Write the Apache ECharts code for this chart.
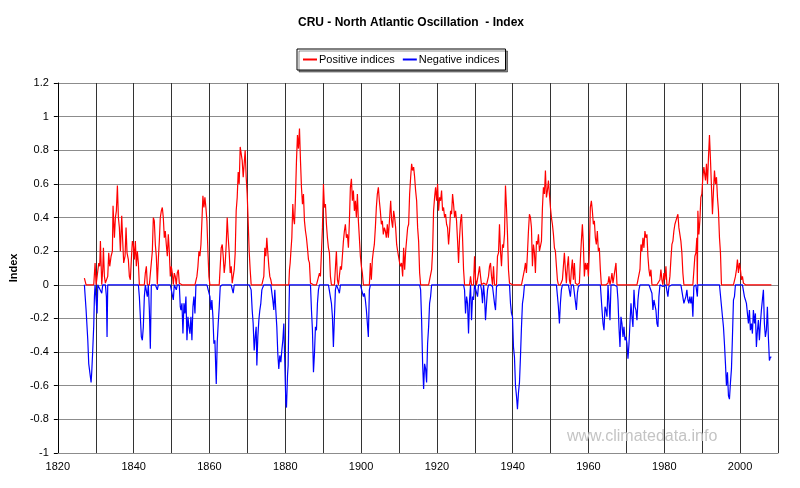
<!DOCTYPE html>
<html>
<head>
<meta charset="utf-8">
<script src="https://cdn.jsdelivr.net/npm/echarts@6/dist/echarts.min.js"></script>
<style>html,body{margin:0;padding:0;background:#fff;}#c{width:800px;height:488px;}</style>
</head>
<body>
<div id="c"></div>
<script>
// NAO index readings [year, value]
const nao1827_1852 = [[1827.0,0.04],[1827.45,-0.15],[1827.9,-0.33],[1828.15,-0.47],[1828.5,-0.48],[1828.77,-0.58],[1828.94,-0.52],[1829.2,-0.39],[1829.47,-0.24],[1829.65,-0.07],[1829.82,0.13],[1830.09,-0.09],[1830.35,-0.17],[1830.53,0.01],[1830.79,0.13],[1831.05,0.11],[1831.23,0.26],[1831.58,-0.05],[1831.84,0.09],[1832.02,0.22],[1832.28,0.05],[1832.54,0.01],[1832.81,-0.07],[1832.98,-0.31],[1833.16,0.05],[1833.42,0.19],[1833.69,0.11],[1834.04,0.17],[1834.39,0.2],[1834.56,0.47],[1834.92,0.28],[1835.18,0.4],[1835.44,0.44],[1835.71,0.59],[1835.97,0.4],[1836.23,0.34],[1836.5,0.2],[1836.85,0.41],[1837.11,0.26],[1837.37,0.13],[1837.73,0.17],[1837.99,0.34],[1838.25,0.19],[1838.6,0.15],[1838.87,0.05],[1839.13,0.03],[1839.39,0.15],[1839.66,0.26],[1839.92,0.24],[1840.18,0.15],[1840.45,0.26],[1840.71,0.11],[1840.97,0.2],[1841.24,0.13],[1841.5,-0.07],[1841.76,-0.19],[1842.03,-0.31],[1842.29,-0.33],[1842.55,-0.25],[1842.82,-0.07],[1843.08,0.07],[1843.35,0.11],[1843.61,-0.07],[1843.87,0.01],[1844.14,-0.15],[1844.4,-0.38],[1844.66,0.01],[1844.93,0.2],[1845.19,0.4],[1845.45,0.38],[1845.72,0.24],[1845.98,0.17],[1846.24,-0.03],[1846.51,0.15],[1846.77,0.26],[1847.03,0.4],[1847.3,0.44],[1847.56,0.46],[1847.82,0.4],[1848.09,0.28],[1848.35,0.32],[1848.61,0.24],[1848.88,0.17],[1849.14,0.3],[1849.4,0.2],[1849.67,0.05],[1849.93,0.11],[1850.19,0.07],[1850.46,-0.09],[1850.72,0.07],[1850.98,0.05],[1851.25,-0.03],[1851.51,0.07],[1851.78,0.09],[1852.04,0.01],[1852.3,-0.13]];
const nao1852_1878 = [[1852.48,-0.15],[1852.74,-0.11],[1853.0,-0.29],[1853.27,-0.11],[1853.53,-0.17],[1853.79,-0.07],[1854.06,-0.33],[1854.32,-0.19],[1854.58,-0.25],[1854.85,-0.29],[1855.11,-0.19],[1855.37,-0.33],[1855.64,-0.13],[1855.9,-0.07],[1856.17,-0.17],[1856.43,0.01],[1856.69,0.05],[1856.96,0.11],[1857.22,0.2],[1857.48,0.17],[1857.75,0.24],[1858.01,0.38],[1858.27,0.53],[1858.54,0.46],[1858.8,0.52],[1859.06,0.46],[1859.33,0.38],[1859.59,0.2],[1859.85,0.05],[1860.12,-0.07],[1860.38,-0.15],[1860.64,-0.09],[1860.91,-0.19],[1861.17,-0.35],[1861.43,-0.33],[1861.79,-0.59],[1862.05,-0.34],[1862.31,-0.23],[1862.58,-0.13],[1862.84,-0.01],[1863.1,0.22],[1863.37,0.24],[1863.63,0.17],[1863.89,0.07],[1864.16,0.13],[1864.42,0.24],[1864.68,0.4],[1864.95,0.28],[1865.21,0.19],[1865.47,0.07],[1865.74,0.11],[1866.0,0.01],[1866.26,-0.05],[1866.53,0.09],[1866.79,0.19],[1867.05,0.44],[1867.32,0.52],[1867.58,0.67],[1867.84,0.6],[1868.11,0.82],[1868.37,0.81],[1868.63,0.74],[1868.9,0.64],[1869.16,0.72],[1869.42,0.8],[1869.69,0.64],[1869.95,0.54],[1870.21,0.38],[1870.48,0.2],[1870.74,0.09],[1871.0,-0.03],[1871.27,-0.15],[1871.53,-0.23],[1871.8,-0.39],[1872.06,-0.31],[1872.32,-0.25],[1872.5,-0.48],[1872.76,-0.31],[1873.03,-0.21],[1873.29,-0.15],[1873.55,-0.11],[1873.82,-0.03],[1874.08,-0.03],[1874.34,0.05],[1874.61,0.22],[1874.87,0.17],[1875.13,0.28],[1875.4,0.19],[1875.66,0.11],[1875.92,0.05],[1876.19,0.03],[1876.45,-0.01],[1876.71,-0.09],[1876.98,-0.15],[1877.24,-0.03],[1877.5,-0.15],[1877.77,-0.25],[1878.03,-0.41],[1878.29,-0.5],[1878.56,-0.42]];
const nao1878_1907 = [[1878.83,-0.46],[1879.09,-0.39],[1879.36,-0.33],[1879.62,-0.23],[1879.88,-0.47],[1880.15,-0.70],[1880.32,-0.73],[1880.59,-0.54],[1880.76,-0.48],[1880.94,-0.19],[1881.11,0.09],[1881.29,0.13],[1881.46,0.19],[1881.73,0.28],[1881.99,0.48],[1882.17,0.4],[1882.43,0.36],[1882.69,0.52],[1882.96,0.74],[1883.22,0.89],[1883.48,0.81],[1883.75,0.93],[1884.01,0.74],[1884.27,0.58],[1884.54,0.48],[1884.8,0.54],[1885.06,0.38],[1885.33,0.32],[1885.59,0.28],[1885.85,0.22],[1886.12,0.15],[1886.38,0.13],[1886.65,0.01],[1886.91,-0.15],[1887.17,-0.27],[1887.44,-0.52],[1887.7,-0.41],[1887.96,-0.25],[1888.23,-0.27],[1888.49,-0.11],[1888.75,-0.03],[1889.02,0.07],[1889.28,0.05],[1889.54,0.19],[1889.81,0.34],[1890.07,0.6],[1890.33,0.46],[1890.6,0.48],[1890.86,0.36],[1891.12,0.28],[1891.39,0.22],[1891.65,0.19],[1891.91,0.05],[1892.18,-0.11],[1892.44,-0.19],[1892.7,-0.37],[1892.97,-0.19],[1893.23,-0.03],[1893.49,0.2],[1893.76,0.03],[1894.02,-0.03],[1894.28,-0.05],[1894.55,0.11],[1894.81,0.09],[1895.07,0.17],[1895.34,0.26],[1895.6,0.32],[1895.86,0.36],[1896.13,0.28],[1896.39,0.3],[1896.66,0.22],[1896.92,0.38],[1897.18,0.58],[1897.45,0.63],[1897.71,0.5],[1897.97,0.56],[1898.24,0.44],[1898.5,0.5],[1898.76,0.4],[1899.03,0.54],[1899.29,0.38],[1899.55,0.28],[1899.82,0.17],[1900.08,0.11],[1900.34,0.07],[1900.61,-0.07],[1900.87,-0.05],[1901.13,-0.09],[1901.4,-0.15],[1901.66,-0.23],[1901.92,-0.31],[1902.19,-0.03],[1902.45,0.13],[1902.71,0.03],[1902.98,0.15],[1903.24,0.2],[1903.5,0.24],[1903.77,0.34],[1904.03,0.46],[1904.29,0.54],[1904.56,0.58],[1904.82,0.5],[1905.08,0.44],[1905.35,0.36],[1905.61,0.38],[1905.87,0.3],[1906.14,0.34],[1906.4,0.32],[1906.66,0.28],[1906.93,0.36],[1907.19,0.28]];
const nao1907_1935 = [[1907.54,0.4],[1907.81,0.5],[1908.07,0.38],[1908.33,0.34],[1908.6,0.44],[1908.86,0.4],[1909.12,0.34],[1909.39,0.24],[1909.65,0.2],[1909.91,0.19],[1910.18,0.13],[1910.44,0.11],[1910.7,0.13],[1910.97,0.05],[1911.23,0.22],[1911.5,0.09],[1911.76,0.2],[1912.02,0.19],[1912.29,0.34],[1912.55,0.36],[1912.81,0.54],[1913.08,0.64],[1913.34,0.72],[1913.6,0.68],[1913.87,0.7],[1914.13,0.64],[1914.39,0.56],[1914.66,0.5],[1914.92,0.34],[1915.18,0.26],[1915.45,0.07],[1915.71,-0.03],[1915.97,-0.21],[1916.24,-0.47],[1916.5,-0.62],[1916.76,-0.47],[1917.03,-0.5],[1917.29,-0.58],[1917.55,-0.35],[1917.82,-0.25],[1918.08,-0.11],[1918.34,-0.07],[1918.61,0.09],[1918.87,0.2],[1919.13,0.44],[1919.4,0.52],[1919.66,0.58],[1919.92,0.5],[1920.19,0.6],[1920.45,0.44],[1920.71,0.52],[1920.98,0.5],[1921.24,0.56],[1921.5,0.44],[1921.77,0.46],[1922.03,0.4],[1922.29,0.42],[1922.56,0.36],[1922.82,0.34],[1923.09,0.24],[1923.35,0.32],[1923.61,0.44],[1923.88,0.42],[1924.14,0.54],[1924.4,0.48],[1924.67,0.4],[1924.93,0.44],[1925.19,0.38],[1925.46,0.26],[1925.72,0.13],[1925.98,0.28],[1926.25,0.38],[1926.51,0.42],[1926.77,0.28],[1927.04,0.09],[1927.3,-0.03],[1927.56,-0.17],[1927.83,-0.07],[1928.09,-0.11],[1928.35,-0.29],[1928.62,-0.09],[1928.88,0.05],[1929.14,-0.21],[1929.41,-0.07],[1929.67,-0.09],[1929.94,0.17],[1930.2,0.03],[1930.46,-0.01],[1930.73,-0.07],[1930.99,0.07],[1931.25,0.11],[1931.52,0.05],[1931.78,-0.03],[1932.04,-0.11],[1932.31,0.01],[1932.57,-0.07],[1932.83,-0.21],[1933.1,-0.11],[1933.36,-0.03],[1933.62,0.05],[1933.89,0.11],[1934.15,0.13],[1934.41,0.05],[1934.68,-0.01],[1934.94,0.11]];
const nao1935_1962 = [[1935.2,-0.11],[1935.47,-0.15],[1935.73,-0.01],[1935.99,0.17],[1936.26,0.19],[1936.52,0.36],[1936.78,0.2],[1937.05,0.11],[1937.31,0.24],[1937.57,0.22],[1937.84,0.3],[1938.1,0.59],[1938.36,0.46],[1938.63,0.3],[1938.89,0.09],[1939.16,0.01],[1939.42,-0.11],[1939.68,-0.17],[1939.95,-0.19],[1940.21,-0.37],[1940.47,-0.43],[1940.74,-0.6],[1941.0,-0.66],[1941.26,-0.74],[1941.53,-0.64],[1941.79,-0.58],[1942.05,-0.43],[1942.32,-0.25],[1942.58,-0.11],[1942.84,-0.07],[1943.11,0.09],[1943.37,0.13],[1943.63,0.07],[1943.9,0.19],[1944.16,0.32],[1944.42,0.42],[1944.69,0.4],[1944.95,0.34],[1945.21,0.11],[1945.48,0.24],[1945.74,0.19],[1946.0,0.07],[1946.27,0.26],[1946.53,0.24],[1946.8,0.3],[1947.06,0.2],[1947.32,0.19],[1947.59,0.26],[1947.85,0.46],[1948.11,0.58],[1948.38,0.54],[1948.64,0.68],[1948.9,0.52],[1949.17,0.56],[1949.43,0.62],[1949.69,0.54],[1949.96,0.46],[1950.22,0.4],[1950.48,0.36],[1950.75,0.3],[1951.01,0.22],[1951.27,0.2],[1951.54,0.11],[1951.8,0.03],[1952.06,-0.13],[1952.33,-0.23],[1952.59,-0.11],[1952.85,-0.03],[1953.12,0.03],[1953.38,0.11],[1953.64,0.19],[1953.91,0.09],[1954.17,0.01],[1954.43,0.11],[1954.7,0.17],[1954.96,0.03],[1955.23,-0.07],[1955.49,0.09],[1955.75,0.15],[1956.02,0.03],[1956.28,0.13],[1956.54,0.01],[1956.81,-0.15],[1957.07,-0.05],[1957.33,-0.01],[1957.6,0.01],[1957.86,0.15],[1958.12,0.26],[1958.39,0.36],[1958.65,0.24],[1958.91,0.05],[1959.18,0.13],[1959.44,0.09],[1959.7,0.13],[1959.97,0.05],[1960.23,0.2],[1960.49,0.46],[1960.76,0.5],[1961.02,0.44],[1961.28,0.36],[1961.55,0.38],[1961.81,0.28],[1962.07,0.24],[1962.34,0.32],[1962.6,0.2]];
const nao1962_1990 = [[1962.86,0.22],[1963.13,0.09],[1963.39,-0.01],[1963.57,-0.15],[1963.83,-0.23],[1964.09,-0.27],[1964.36,-0.13],[1964.62,-0.15],[1964.88,-0.19],[1965.15,0.01],[1965.41,0.05],[1965.67,-0.21],[1965.94,0.03],[1966.2,0.07],[1966.46,0.01],[1966.73,0.05],[1966.99,0.09],[1967.25,0.13],[1967.52,-0.01],[1967.78,-0.09],[1968.04,-0.25],[1968.31,-0.37],[1968.57,-0.19],[1968.83,-0.23],[1969.1,-0.31],[1969.36,-0.25],[1969.63,-0.33],[1969.89,-0.31],[1970.15,-0.35],[1970.42,-0.44],[1970.68,-0.35],[1970.94,-0.23],[1971.21,-0.11],[1971.47,-0.19],[1971.73,-0.25],[1972.0,-0.03],[1972.26,-0.13],[1972.52,-0.15],[1972.79,-0.21],[1973.05,-0.09],[1973.31,-0.03],[1973.58,0.09],[1973.84,0.24],[1974.1,0.2],[1974.37,0.28],[1974.63,0.22],[1974.89,0.32],[1975.16,0.28],[1975.42,0.3],[1975.68,0.17],[1975.95,0.09],[1976.21,0.05],[1976.47,0.09],[1976.74,-0.05],[1977.0,-0.15],[1977.27,-0.09],[1977.53,-0.09],[1977.79,-0.15],[1978.06,-0.23],[1978.32,-0.25],[1978.58,-0.07],[1978.85,0.03],[1979.11,0.09],[1979.37,0.03],[1979.64,-0.01],[1979.9,0.07],[1980.16,0.03],[1980.43,0.11],[1980.69,-0.01],[1980.95,-0.07],[1981.22,-0.01],[1981.48,0.05],[1981.74,0.15],[1982.01,0.24],[1982.27,0.26],[1982.53,0.32],[1982.8,0.36],[1983.06,0.38],[1983.32,0.4],[1983.59,0.42],[1983.85,0.34],[1984.11,0.3],[1984.38,0.26],[1984.64,0.19],[1984.9,0.07],[1985.17,-0.11],[1985.43,-0.09],[1985.69,-0.07],[1985.96,-0.03],[1986.22,-0.09],[1986.48,-0.11],[1986.75,-0.07],[1987.01,-0.11],[1987.27,-0.07],[1987.54,-0.19],[1987.8,-0.01],[1988.07,0.17],[1988.33,0.19],[1988.59,0.28],[1988.72,-0.07],[1988.86,0.44],[1989.12,0.3],[1989.38,0.38],[1989.65,0.52],[1989.91,0.54],[1990.17,0.64],[1990.44,0.70]];
const nao1990_2008 = [[1990.61,0.70],[1990.87,0.62],[1991.13,0.72],[1991.4,0.6],[1991.66,0.76],[1991.92,0.89],[1992.19,0.74],[1992.45,0.58],[1992.71,0.42],[1992.98,0.56],[1993.24,0.68],[1993.5,0.6],[1993.77,0.64],[1994.03,0.52],[1994.29,0.44],[1994.56,0.28],[1994.82,0.19],[1995.08,-0.01],[1995.35,-0.19],[1995.61,-0.25],[1995.87,-0.35],[1996.14,-0.47],[1996.4,-0.6],[1996.66,-0.52],[1996.93,-0.66],[1997.19,-0.68],[1997.46,-0.58],[1997.72,-0.5],[1997.98,-0.31],[1998.25,-0.09],[1998.51,-0.07],[1998.77,0.05],[1999.04,0.09],[1999.3,0.15],[1999.56,0.07],[1999.83,0.13],[2000.09,0.09],[2000.35,0.03],[2000.62,0.05],[2000.88,0.01],[2001.14,-0.07],[2001.41,-0.09],[2001.67,-0.11],[2001.93,-0.17],[2002.2,-0.23],[2002.46,-0.15],[2002.72,-0.27],[2002.99,-0.23],[2003.25,-0.29],[2003.51,-0.15],[2003.78,-0.23],[2004.04,-0.17],[2004.3,-0.37],[2004.57,-0.27],[2004.83,-0.21],[2005.09,-0.33],[2005.36,-0.23],[2005.62,-0.15],[2005.88,-0.09],[2006.15,-0.03],[2006.41,-0.23],[2006.67,-0.31],[2006.94,-0.27],[2007.2,-0.13],[2007.46,-0.31],[2007.73,-0.45],[2007.99,-0.43],[2008.26,-0.43]];

const seriesNames = ['Positive indices', 'Negative indices'];
const yTicks = [-1, -0.8, -0.6, -0.4, -0.2, 0, 0.2, 0.4, 0.6, 0.8, 1, 1.2];

const allPoints = [].concat(nao1827_1852, nao1852_1878, nao1878_1907, nao1907_1935, nao1935_1962, nao1962_1990, nao1990_2008);
const positive = allPoints.map(p => [p[0], Math.max(p[1], 0)]);
const negative = allPoints.map(p => [p[0], Math.min(p[1], 0)]);

const FONT = '"Liberation Sans", Arial, sans-serif';
const chart = echarts.init(document.getElementById('c'), null, {renderer: 'canvas'});
chart.setOption({
  animation: false,
  backgroundColor: '#fff',
  title: {
    text: 'CRU - North Atlantic Oscillation  - Index',
    left: 406, top: 12, textAlign: 'center',
    textStyle: {fontFamily: FONT, fontSize: 12, fontWeight: 'bold', color: '#000'}
  },
  legend: {
    data: seriesNames,
    left: 297, top: 49,
    padding: [5, 6, 5, 6],
    itemGap: 8,
    itemWidth: 14, itemHeight: 2,
    icon: 'rect',
    borderColor: '#000', borderWidth: 1,
    backgroundColor: '#fff',
    shadowColor: 'rgba(0,0,0,0.45)', shadowOffsetX: 2, shadowOffsetY: 2, shadowBlur: 0,
    textStyle: {fontFamily: FONT, fontSize: 11, color: '#000', padding: [0, 0, 0, -3]}
  },
  grid: {left: 57, right: 22, top: 83, bottom: 35},
  xAxis: {
    type: 'value', min: 1820, max: 2010, interval: 10,
    axisLine: {onZero: false, lineStyle: {color: '#8c8c8c', width: 1}},
    axisTick: {show: false},
    axisLabel: {
      margin: 8, color: '#000', fontFamily: FONT, fontSize: 11,
      formatter: v => (v % 20 === 0 ? String(v) : '')
    },
    splitLine: {show: true, lineStyle: {color: '#333', width: 1}}
  },
  yAxis: {
    type: 'value', min: -1, max: 1.2, interval: 0.2,
    name: 'Index', nameLocation: 'middle', nameGap: 33, nameRotate: 90,
    nameTextStyle: {fontFamily: FONT, fontSize: 11, fontWeight: 'bold', color: '#000'},
    axisLine: {show: true, onZero: false, lineStyle: {color: '#000', width: 1}},
    axisTick: {show: true, length: 4, lineStyle: {color: '#000'}},
    axisLabel: {
      margin: 9, color: '#000', fontFamily: FONT, fontSize: 11,
      formatter: v => {
        const t = yTicks.find(k => Math.abs(k - v) < 1e-6);
        return t === undefined ? '' : String(t);
      }
    },
    splitLine: {show: true, lineStyle: {color: '#8c8c8c', width: 1}}
  },
  graphic: [{
    type: 'text', left: 567, top: 429, silent: true, z: 100,
    style: {text: 'www.climatedata.info', fill: '#c4c4c4', font: '16px "Liberation Sans", Arial, sans-serif'}
  }],
  series: [
    {name: seriesNames[0], type: 'line', data: positive, showSymbol: false, color: '#ff0000',
     lineStyle: {width: 1.2, color: '#ff0000'}, z: 3},
    {name: seriesNames[1], type: 'line', data: negative, showSymbol: false, color: '#0000ff',
     lineStyle: {width: 1.2, color: '#0000ff'}, z: 4}
  ]
});
</script>
</body>
</html>
